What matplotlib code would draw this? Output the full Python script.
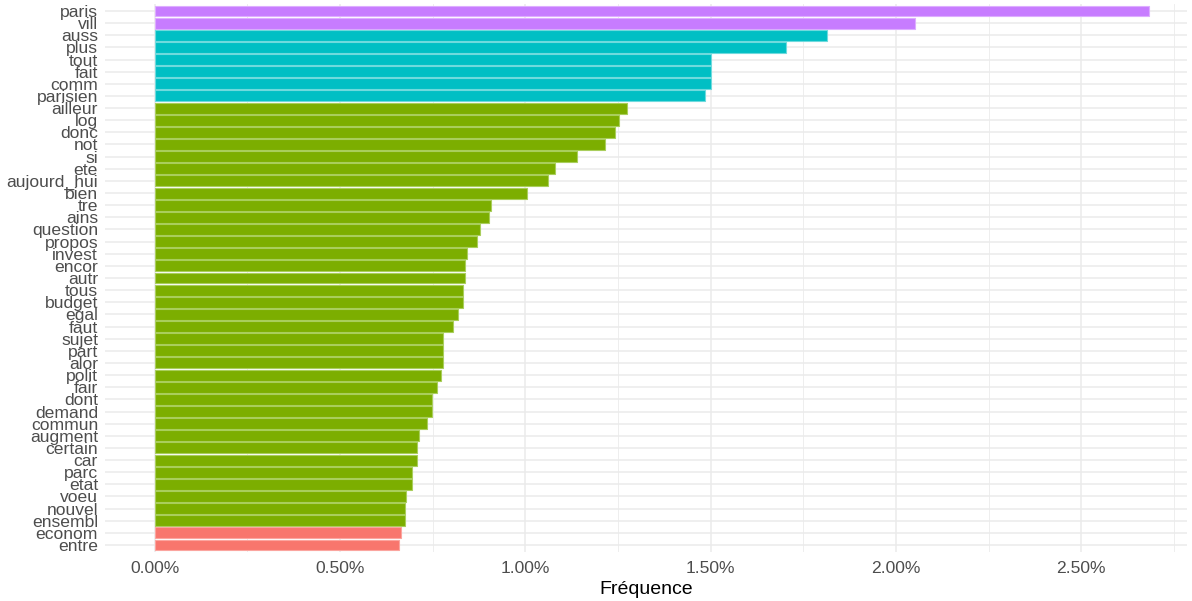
import matplotlib.pyplot as plt
import numpy as np

# mots (du plus fréquent au moins fréquent) et fréquences en %
mots = ['paris', 'vill', 'auss', 'plus', 'tout', 'fait', 'comm', 'parisien',
        'ailleur', 'log', 'donc', 'not', 'si', 'ete', 'aujourd_hui', 'bien',
        'tre', 'ains', 'question', 'propos', 'invest', 'encor', 'autr', 'tous',
        'budget', 'egal', 'faut', 'sujet', 'part', 'alor', 'polit', 'fair',
        'dont', 'demand', 'commun', 'augment', 'certain', 'car', 'parc', 'etat',
        'voeu', 'nouvel', 'ensembl', 'econom', 'entre']
freq = [2.683, 2.050, 1.815, 1.704, 1.500, 1.500, 1.500, 1.485,
        1.275, 1.252, 1.243, 1.216, 1.140, 1.080, 1.062, 1.005,
        0.907, 0.903, 0.879, 0.870, 0.842, 0.838, 0.838, 0.833,
        0.833, 0.819, 0.805, 0.777, 0.777, 0.777, 0.772, 0.763,
        0.749, 0.749, 0.735, 0.712, 0.707, 0.707, 0.693, 0.693,
        0.679, 0.674, 0.674, 0.665, 0.660]
groupe = [4, 4, 3, 3, 3, 3, 3, 3] + [2] * 35 + [1, 1]

couleurs = {1: '#F8766D', 2: '#7CAE00', 3: '#00BFC4', 4: '#C77CFF'}
bords = {1: '#FBA59F', 2: '#A9CE5C', 3: '#6FDADD', 4: '#DDADFF'}

xticks = [0, 0.5, 1.0, 1.5, 2.0, 2.5]

plt.rcParams['font.family'] = ['Liberation Sans', 'DejaVu Sans']

fig = plt.figure(figsize=(11.92, 6.01), dpi=100)
ax = fig.add_axes([105 / 1192, (601 - 552.3) / 601,
                   (1187 - 105) / 1192, (552.3 - 3.7) / 601])

n = len(mots)
y = np.arange(n)[::-1]
ax.barh(y, freq, height=0.9,
        color=[couleurs[g] for g in groupe],
        edgecolor=[bords[g] for g in groupe], linewidth=0.8, zorder=3)

ax.set_xlim(-0.134, 2.785)
ax.set_ylim(-0.6, n - 0.4)

ax.set_yticks(y)
ax.set_yticklabels(mots)
ax.set_xticks(xticks)
ax.set_xticklabels([f"{v:.2f}%" for v in xticks])
ax.set_xticks(np.arange(0.25, 2.8, 0.5), minor=True)

ax.grid(True, which='major', color='#EBEBEB', linewidth=1.1, zorder=0)
ax.grid(True, which='minor', axis='x', color='#EBEBEB', linewidth=0.6, zorder=0)
ax.set_axisbelow(True)

for s in ax.spines.values():
    s.set_visible(False)
ax.tick_params(axis='both', which='both', length=0, labelsize=12.6,
               labelcolor='#4D4D4D')
ax.tick_params(axis='y', pad=5)
ax.tick_params(axis='x', pad=6)

ax.set_xlabel('Fréquence', fontsize=14, color='black', labelpad=4)

fig.savefig('out.png', dpi=100)
